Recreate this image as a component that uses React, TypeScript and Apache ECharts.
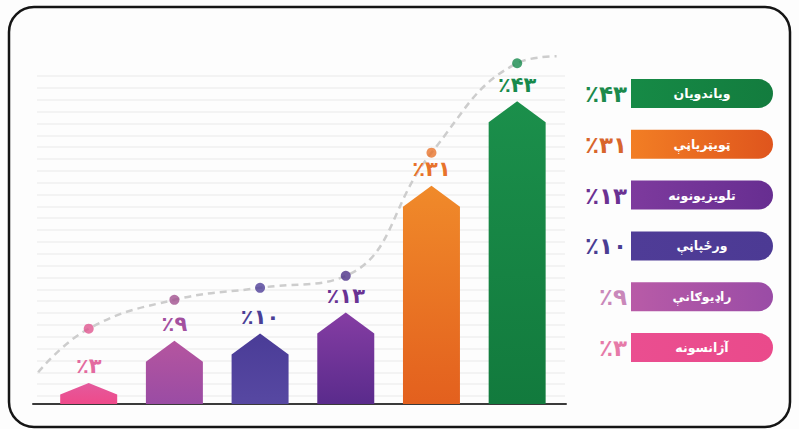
import React, { useEffect, useRef } from "react";
import * as echarts from "echarts";

// ---- data ----
const categories = ["آژانسونه", "راډیوګانې", "ورځپاڼې", "تلویزیونونه", "ټویټرپاڼې", "ویاندویان"];
const values = [3, 9, 10, 13, 31, 43];
const valueLabels = ["٪۳", "٪۹", "٪۱۰", "٪۱۳", "٪۳۱", "٪۴۳"];
const dotValues = [10.7, 14.8, 16.5, 18.2, 35.7, 48.4];
const trendStart = [-0.09, 4.5];
const trendEnd = [5.96, 49.4];

// ---- styles ----
const barTopColors = ["#e35a9d", "#b5559f", "#4a3c97", "#853da3", "#f08a2a", "#1b8f4b"];
const barBottomColors = ["#ef4a8a", "#9a4ca4", "#5748a2", "#5a2b8c", "#e3601e", "#127a3d"];
const labelColors = ["#e36aa0", "#a3509f", "#4a3f96", "#6a3394", "#e8732b", "#178a4c"];
const legendPctColors = ["#e67aa8", "#c988ba", "#4a3d93", "#6b3192", "#d8652c", "#1c8a4c"];
const pillLeft = ["#ea4e90", "#b85ba7", "#4f3c97", "#7d3a9d", "#f27e24", "#168a46"];
const pillRight = ["#ea4a8b", "#9a4ca6", "#4c3a94", "#672e91", "#df551d", "#137c3e"];
const dotColors = ["#e0558f", "#a1508f", "#4f3f98", "#4b2f87", "#e8742c", "#178a4c"];

const FONT = '"DejaVu Sans", "Noto Sans", sans-serif';

export default function App() {
  const ref = useRef<HTMLDivElement>(null);

  useEffect(() => {
    if (!ref.current) return;
    const chart = echarts.init(ref.current, undefined, { renderer: "svg" });

    const legendGraphics: any[] = [];
    categories.forEach((name, i) => {
      const row = categories.length - 1 - i;
      const top = 79 + row * 50.8;
      legendGraphics.push({
        type: "rect",
        shape: { x: 631, y: top, width: 142, height: 29, r: [0, 14.5, 14.5, 0] },
        style: {
          fill: new echarts.graphic.LinearGradient(0, 0, 1, 0, [
            { offset: 0, color: pillLeft[i] },
            { offset: 1, color: pillRight[i] },
          ]),
        },
        z: 10,
      });
      legendGraphics.push({
        type: "text",
        x: 702,
        y: top + 14.5,
        style: {
          text: name,
          fill: "#ffffff",
          font: `bold 12.5px ${FONT}`,
          align: "center",
          verticalAlign: "middle",
        },
        z: 11,
      });
      legendGraphics.push({
        type: "text",
        x: 627,
        y: top + 15,
        style: {
          text: valueLabels[i],
          fill: legendPctColors[i],
          font: `bold 23px ${FONT}`,
          align: "right",
          verticalAlign: "middle",
        },
        z: 11,
      });
    });

    const option: any = {
      animation: false,
      backgroundColor: "#fdfdfd",
      grid: [
        { left: 33, right: 233, top: 52, bottom: 25 },
        { left: 37, right: 234, top: 76, bottom: 33 },
      ],
      xAxis: [
        {
          type: "value",
          gridIndex: 0,
          min: -0.15,
          max: 6.07,
          axisLine: { show: true, lineStyle: { color: "#3a3a3a", width: 2 } },
          axisTick: { show: false },
          axisLabel: { show: false },
          splitLine: { show: false },
        },
        {
          type: "value",
          gridIndex: 1,
          min: 0,
          max: 1,
          show: false,
        },
      ],
      yAxis: [
        {
          type: "value",
          gridIndex: 0,
          min: 0,
          max: 50,
          axisLine: { show: false },
          axisTick: { show: false },
          axisLabel: { show: false },
          splitLine: { show: false },
        },
        {
          type: "value",
          gridIndex: 1,
          min: 0,
          max: 27,
          interval: 1,
          axisLine: { show: false },
          axisTick: { show: false },
          axisLabel: { show: false },
          splitLine: { show: true, lineStyle: { color: "#efefef", width: 1.6 } },
        },
      ],
      series: [
        {
          type: "line",
          xAxisIndex: 0,
          yAxisIndex: 0,
          data: [trendStart, ...dotValues.map((v, i) => [i + 0.5, v]), trendEnd],
          smooth: 0.45,
          symbol: "none",
          lineStyle: { color: "#cdcdcd", width: 2.5, type: [7, 5] },
          z: 1,
        },
        {
          type: "custom",
          xAxisIndex: 0,
          yAxisIndex: 0,
          data: values.map((v, i) => [i + 0.5, v, i]),
          encode: { x: 0, y: 1 },
          z: 3,
          renderItem: (params: any, api: any) => {
            const idx = api.value(2);
            const base = api.coord([api.value(0), 0]);
            const top = api.coord([api.value(0), api.value(1)]);
            const w = api.size([0.665, 0])[0];
            const h = base[1] - top[1];
            const roof = Math.min(21, h * 0.55);
            const cx = base[0];
            return {
              type: "group",
              children: [
                {
                  type: "polygon",
                  shape: {
                    points: [
                      [cx - w / 2, base[1]],
                      [cx - w / 2, top[1] + roof],
                      [cx, top[1]],
                      [cx + w / 2, top[1] + roof],
                      [cx + w / 2, base[1]],
                    ],
                  },
                  style: {
                    fill: new echarts.graphic.LinearGradient(0, 0, 0, 1, [
                      { offset: 0, color: barTopColors[idx] },
                      { offset: 1, color: barBottomColors[idx] },
                    ]),
                  },
                },
                {
                  type: "text",
                  x: cx,
                  y: top[1] - 6,
                  style: {
                    text: valueLabels[idx],
                    fill: labelColors[idx],
                    font: `bold 21px ${FONT}`,
                    align: "center",
                    verticalAlign: "bottom",
                  },
                },
              ],
            };
          },
        },
        {
          type: "scatter",
          xAxisIndex: 0,
          yAxisIndex: 0,
          symbolSize: 10,
          data: dotValues.map((v, i) => ({ value: [i + 0.5, v], itemStyle: { color: dotColors[i] } })),
          z: 4,
        },
      ],
      graphic: [
        {
          type: "rect",
          shape: { x: 9, y: 7, width: 781, height: 420, r: 25 },
          style: { fill: "none", stroke: "#151515", lineWidth: 2.5 },
          z: 20,
        },
        ...legendGraphics,
      ],
    };

    chart.setOption(option);
    return () => chart.dispose();
  }, []);

  return (
    <div
      ref={ref}
      style={{ position: "fixed", left: 0, top: 0, width: 799, height: 429 }}
    />
  );
}
